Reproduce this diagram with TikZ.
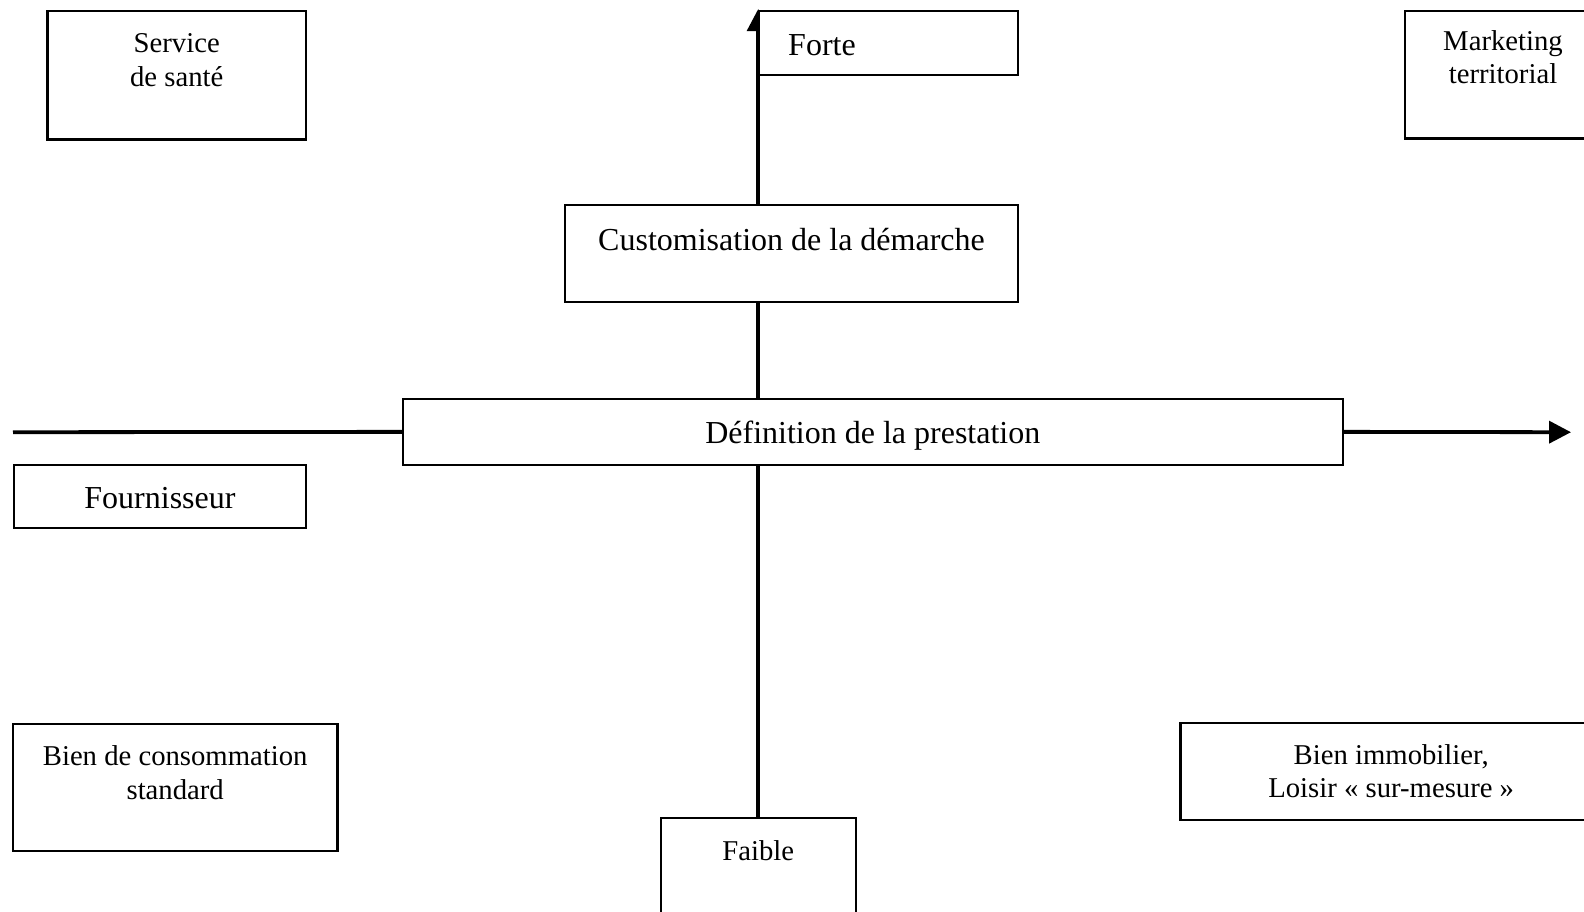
\documentclass[tikz,border=0pt]{standalone}
\usepackage{fontspec}
\setmainfont{Liberation Serif}
\usetikzlibrary{arrows.meta}
\begin{document}
\begin{tikzpicture}[x=1pt,y=-1pt,
  boxnode/.style={draw, line width=2.2pt, fill=white, rectangle, inner sep=0pt},
  axis/.style={line width=3.8pt},
  bigtxt/.style={font=\fontsize{32}{38}\selectfont, inner sep=0pt, anchor=base},
  smalltxt/.style={font=\fontsize{28.7}{33.5}\selectfont, inner sep=0pt, anchor=base, align=center},
  tip/.style={-{Triangle[length=22pt,width=22pt]}}]
\useasboundingbox (0,0) rectangle (1584,911);
\clip (0,0) rectangle (1584,911);
% boxes
\node[boxnode, minimum width=939.6pt, minimum height=65.7pt] (def) at (872.8,431.85) {};
\node[boxnode, minimum width=453.6pt, minimum height=97pt] (cust) at (791.5,253.5) {};
\node[boxnode, minimum width=195pt, minimum height=132pt] (faible) at (758.2,884) {};
\coordinate (left) at (13,432.2);
\coordinate (right) at (1571,432.2);
\coordinate (top) at (758.2,9);
% axes
\draw[axis] (left) -- (def.west);
\draw[axis,tip] (def.east) -- (right);
\draw[axis] (faible.north) -- (faible.north |- def.south);
\draw[axis] (faible.north |- def.north) -- (faible.north |- cust.south);
\draw[axis,tip] (faible.north |- cust.north) -- (top);
% redraw boxes on top
\node[boxnode, minimum width=939.6pt, minimum height=65.7pt] (def2) at (def) {};
\node[boxnode, minimum width=453.6pt, minimum height=97pt] (cust2) at (cust) {};
\node[boxnode, minimum width=259.6pt, minimum height=63.8pt] (forte) at (888.5,42.9) {};
\node[boxnode, minimum width=258.5pt, minimum height=128.5pt] (sante) at (176.7,75.2) {};
\node[boxnode, minimum width=196pt, minimum height=127.4pt] (market) at (1503,74.7) {};
\node[boxnode, minimum width=292pt, minimum height=63.6pt] (four) at (160,496.5) {};
\node[boxnode, minimum width=324.4pt, minimum height=126.3pt] (conso) at (175.2,787.5) {};
\node[boxnode, minimum width=421.5pt, minimum height=97.3pt] (immo) at (1391.2,771.5) {};
% texts
\node[bigtxt, anchor=base west] (tforte) at (788,55.5) {Forte};
\node[bigtxt] (tcust) at (791.5,250.5) {Customisation de la démarche};
\node[bigtxt] (tdef) at (872.8,443.5) {Définition de la prestation};
\node[bigtxt] (tfour) at (160,508) {Fournisseur};
\node[smalltxt] (tsante) at (176.7,86) {Service\\de santé};
\node[smalltxt, font=\fontsize{28.7}{32.5}\selectfont] (tmarket) at (1503,83) {Marketing\\territorial};
\node[smalltxt] (tconso) at (175.2,799) {Bien de consommation\\standard};
\node[smalltxt, font=\fontsize{28.7}{32.3}\selectfont] (timmo) at (1391.2,797) {Bien immobilier,\\Loisir « sur-mesure »};
\node[smalltxt] (tfaible) at (758.2,860.7) {Faible};
\end{tikzpicture}
\end{document}
